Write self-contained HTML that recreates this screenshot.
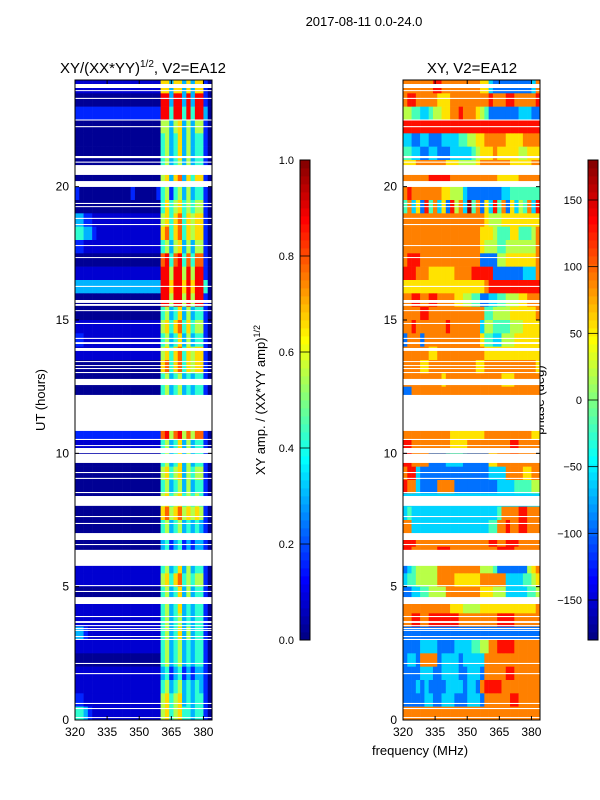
<!DOCTYPE html>
<html><head><meta charset="utf-8"><style>
body{margin:0;background:#fff;}
svg{display:block;font-family:"Liberation Sans","DejaVu Sans",sans-serif;}
</style></head><body>
<svg id="fig" width="600" height="800" viewBox="0 0 600 800" xmlns="http://www.w3.org/2000/svg">
<rect x="0" y="0" width="600" height="800" fill="#fff"/>
<text x="364" y="26" font-size="13" text-anchor="middle">2017-08-11 0.0-24.0</text>
<text x="143" y="73" font-size="15" text-anchor="middle">XY/(XX*YY)<tspan font-size="10" dy="-6">1/2</tspan><tspan dy="6">, V2=EA12</tspan></text>
<text x="472" y="73" font-size="15" text-anchor="middle">XY, V2=EA12</text>
<text transform="translate(45,400) rotate(-90)" font-size="13" text-anchor="middle">UT (hours)</text>
<text x="420" y="755" font-size="13" text-anchor="middle">frequency (MHz)</text>
<text transform="translate(265,400) rotate(-90)" font-size="13" text-anchor="middle">XY amp. / (XX*YY amp)<tspan font-size="9" dy="-5">1/2</tspan></text>
<text transform="translate(544,400) rotate(-90)" font-size="13" text-anchor="middle">phase (deg)</text>
<g id="left"></g>
<g id="right"></g>
<g id="cb1"></g>
<g id="cb2"></g>
</svg>
<script>
const freqStart = 320, freqStep = 2, nFreq = 32;
const timeStep = 0.5;
const xTicks = [320, 335, 350, 365, 380];
const yTicks = [0, 5, 10, 15, 20];
const ampTicks = [0.0, 0.2, 0.4, 0.6, 0.8, 1.0];
const phaseTicks = [-150, -100, -50, 0, 50, 100, 150];
const ampLevels = [0.02, 0.08, 0.16, 0.3, 0.42, 0.55, 0.66, 0.78, 0.88, 1.0];
const phaseLevels = [-180, -130, -95, -60, -20, 20, 55, 90, 130, 170];
const ampRows = [
"11111111111111111111663663636620",
"00000000000000000000883883838820",
"22222222222222222222884884848830",
"00000000000000000000553563535520",
"00000000000000000000453463534420",
"00000000000000000000453463534420",
"00000000000000000000453453534420",
"00000000000000000000563673646620",
"20000000000002000002452453534420",
"00000000000000000000464564545520",
"33221111111111111111564674656620",
"44332111111111111111674674656620",
"22111111111111111111453563535520",
"00000000000000000000784784747720",
"11111111111111111111885885858820",
"33333333333333333333886886868840",
"00000000000000000000885885858820",
"00000000000000000000453463534420",
"11111111111111111111564674645520",
"22111111111111111111453463534420",
"11111111111111111111564674656620",
"00000000000000000000674674656620",
"00000000000000000000453453434420",
"00000000000000000000453453434420",
"00000000000000000000453453434420",
"00000000000000000000453453434420",
"22222222222222222222785785757720",
"11111111111111111111453463534420",
"00000000000000000000453463534420",
"00000000000000000000564563545520",
"00000000000000000000453453534420",
"00000000000000000000564564545420",
"00000000000000000000675675656520",
"00000000000000000000453453434320",
"00000000000000000000342342323320",
"00000000000000000000342342323320",
"11111111111111111111453463534420",
"11111111111111111111564674545520",
"00000000000000000000453463534420",
"11111111111111111111453463434420",
"11111111111111111111453453434420",
"33211111111111111111453463534420",
"11111111111111111111453453434420",
"00000000000000000000453453434420",
"11111111111111111111342342323320",
"11111111111111111111453453434320",
"22111111111111111111564563434420",
"44321111111111111111564564434420"];
const phaseRows = [
"77777778877777777766322222222237",
"78877777666777777777877788777778",
"55443345566778777654222222233322",
"88888888888888888888888888888888",
"33223322233334455667777766667777",
"44332233222333334566676666655666",
"66677777776665555677777776666677",
"77777788888777777777776666677777",
"78777777766555322222222334444444",
"47362847362857394726384726354738",
"77777777777777777776555666666666",
"77777777777777777766654446644457",
"77777777777777777765554455555557",
"78887777777777777722225566666667",
"88877766666677778888822222223337",
"66666666666666666667888888888888",
"77887788777766554422334455566777",
"77778877777777777774455556666667",
"77877777778777777735544445556666",
"27772777777777777764433555666666",
"77777766777777777776666666666666",
"77776677777777777667777777777776",
"77777777767777777777777666777777",
"22777777777777777777777777777777",
"77777777777777777777777777777777",
"77777777777777777777777777777777",
"77777777777666666667777777777766",
"88777777777666677777777778877777",
"88777722223333222222667777777777",
"78832222222222222222333377776677",
"87732222777722222222223333444455",
"33333333333333333333333333333333",
"34333333333333333333334777788777",
"77333333333333333333447787788777",
"88877777777777777777887788877777",
"88777777888777777777778888777777",
"23455555777777777755542222222567",
"34455555777766666677777733334456",
"22334455557777777766655533333445",
"77777777777666555566666666666667",
"77887788888887777777778888777777",
"22222222222222222222222222222222",
"22223333222233334455778888777777",
"23327777233332333337777777777777",
"22223332233332233327777788777777",
"22232322223333233278888777777777",
"22222332233322233327777778877777",
"77777777777777777777777777777777"];
const gapStart = [23.70,23.59,23.29,22.48,22.23,21.07,20.90,20.44,19.99,19.35,19.24,18.79,18.56,17.78,17.33,16.24,15.64,15.53,15.34,14.85,14.29,14.10,13.84,13.43,13.28,13.16,13.01,12.56,10.84,10.50,10.28,10.01,9.64,9.26,9.04,8.51,8.03,7.61,7.35,6.75,6.56,5.78,5.02,4.80,4.35,3.86,3.64,3.52,3.41,3.34,3.11,3.00,2.10,1.72,0.60,0.41,0.08];
const gapEnd   = [23.85,23.62,23.33,22.52,22.27,21.15,20.94,20.81,20.21,19.39,19.27,18.83,18.60,17.81,17.36,16.28,15.75,15.60,15.37,14.89,14.33,14.17,13.95,13.46,13.31,13.20,13.05,12.79,12.19,10.54,10.31,10.20,9.98,9.30,9.08,8.55,8.40,7.65,7.39,7.01,6.60,6.38,5.06,4.84,4.61,3.90,3.71,3.56,3.45,3.38,3.15,3.04,2.14,1.76,0.64,0.45,0.11];

const NS = "http://www.w3.org/2000/svg";
function mk(tag, attrs, parent){const e=document.createElementNS(NS,tag);for(const k in attrs)e.setAttribute(k,attrs[k]);parent.appendChild(e);return e;}
function jet(v){v=Math.max(0,Math.min(1,v));const c=x=>Math.round(255*Math.max(0,Math.min(1,x)));
 return `rgb(${c(1.5-Math.abs(4*v-3))},${c(1.5-Math.abs(4*v-2))},${c(1.5-Math.abs(4*v-1))})`;}
const Y0=80, Y1=720;
function yScale(h){return Y1-(h/24)*(Y1-Y0);}

function panel(gid, X0, rows, toNorm, nameCell){
 const W=137, g=document.getElementById(gid);
 const xScale=f=>X0+(f-freqStart)/(nFreq*freqStep)*W;
 rows.forEach((row,k)=>{
  const hTop=24-k*timeStep, hBot=hTop-timeStep;
  for(let i=0;i<row.length;i++){
   const f0=freqStart+i*freqStep;
   const x=xScale(f0), x2=xScale(f0+freqStep);
   const r=mk('rect',{x:x.toFixed(2),y:yScale(hTop).toFixed(2),width:(x2-x+0.3).toFixed(2),height:(yScale(hBot)-yScale(hTop)+0.3).toFixed(2),fill:jet(toNorm(+row[i]))},g);
   
   
  }
 });
 gapStart.forEach((s,j)=>{
  const r=mk('rect',{x:X0,y:yScale(gapEnd[j]).toFixed(2),width:W,height:Math.max(1,yScale(s)-yScale(gapEnd[j])).toFixed(2),fill:'#fff'},g);
  
  
 });
 const fr=mk('rect',{x:X0,y:Y0,width:W,height:Y1-Y0,fill:'none',stroke:'#000','stroke-width':1},g);
 
 
 xTicks.forEach(t=>{
  const x=xScale(t);
  mk('line',{x1:x,x2:x,y1:Y1,y2:Y1-4,stroke:'#000'},g);
  mk('line',{x1:x,x2:x,y1:Y0,y2:Y0+4,stroke:'#000'},g);
  const tx=mk('text',{x:x,y:Y1+16,'font-size':12,'text-anchor':'middle'},g);
  tx.textContent=t;
  
  
 });
 yTicks.forEach(t=>{
  const y=yScale(t);
  mk('line',{x1:X0,x2:X0+4,y1:y,y2:y,stroke:'#000'},g);
  mk('line',{x1:X0+W,x2:X0+W-4,y1:y,y2:y,stroke:'#000'},g);
  const tx=mk('text',{x:X0-6,y:y+4,'font-size':12,'text-anchor':'end'},g);
  tx.textContent=t;
  
  
 });
}
panel('left',75,ampRows,d=>ampLevels[d],'amp-cell');
panel('right',403,phaseRows,d=>(phaseLevels[d]+180)/360,'phase-cell');

function colorbar(gid,X,lo,hi,ticks,fmt){
 const g=document.getElementById(gid), T=160, B=640, n=60;
 for(let i=0;i<n;i++){
  const y=B-(i+1)/n*(B-T);
  mk('rect',{x:X,y:y.toFixed(2),width:10,height:((B-T)/n+0.4).toFixed(2),fill:jet((i+0.5)/n)},g);
 }
 const fr=mk('rect',{x:X,y:T,width:10,height:B-T,fill:'none',stroke:'#000'},g);
 
 
 ticks.forEach(t=>{
  const y=B-(t-lo)/(hi-lo)*(B-T);
  mk('line',{x1:X,x2:X+10,y1:y,y2:y,stroke:'#000','stroke-width':0.8},g);
  const tx=mk('text',{x:X-6,y:y+4,'font-size':11,'text-anchor':'end'},g);
  tx.textContent=fmt(t);
  
  
 });
}
colorbar('cb1',300,0,1,ampTicks,t=>t.toFixed(1));
colorbar('cb2',588,-180,180,phaseTicks,t=>t<0?'\u2212'+(-t):String(t));
</script>
</body></html>
